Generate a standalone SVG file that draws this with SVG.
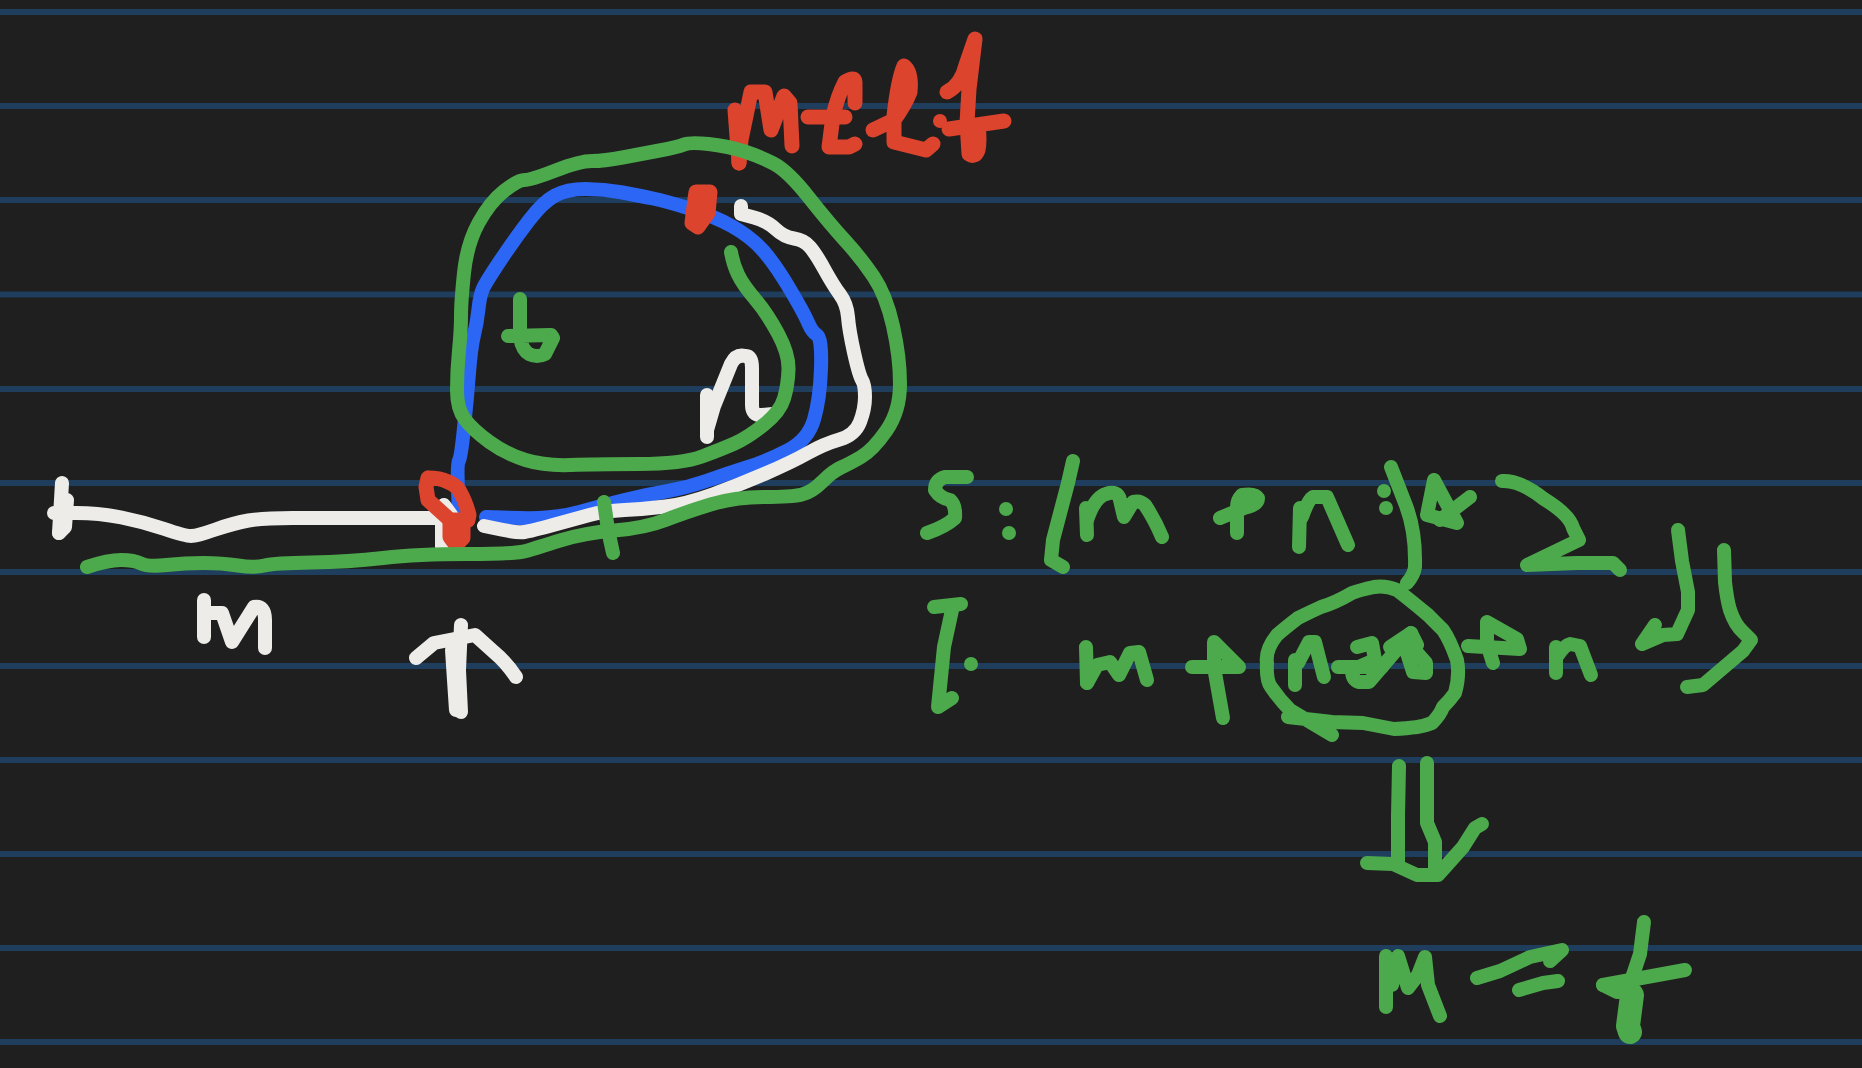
<svg xmlns="http://www.w3.org/2000/svg" width="1862" height="1068" viewBox="0 0 1862 1068">
<style>
polyline,path,circle{stroke-linecap:round;stroke-linejoin:round}
polyline,path{fill:none}
.g{stroke:#4caa4c;stroke-width:14}
.w{stroke:#edece9;stroke-width:14}
.b{stroke:#2c66f5;stroke-width:14}
.r{stroke:#dc442e;stroke-width:15}
.l{stroke:#1f3d5c;stroke-width:6;stroke-linecap:butt}
.gd{fill:#4caa4c}
.rd{fill:#dc442e}
</style>
<rect width="1862" height="1068" fill="#1f1f1f"/>
<g id="ruled-lines">
<path class="l" d="M0 12H1862M0 106H1862M0 200H1862M0 294.500H1862M0 389H1862M0 483H1862M0 572H1862M0 666H1862M0 760H1862M0 854H1862M0 948H1862M0 1042H1862"/>
</g>
<g id="red-word">
<polyline class="r" points="739,163 735,110"/>
<polyline class="r" points="739,163 741,140 751,92 765,92 771,130 784,96 790,103 792,146"/>
<polyline class="r" points="808,117 845,117"/>
<path class="r" d="M855 103L855 82Q855 76 845 82Q838 95 833 116L829 147L849 147L855 144"/>
<path class="r" d="M873 130L894 120Q905 105 910 92Q912 72 904 66Q898 80 894 116L894 142L926 150L933 144"/>
<circle class="rd" cx="940" cy="121" r="7"/>
<polyline class="r" points="949,129 1004,121"/>
<path class="r" d="M947 92Q961 85 966 65L975 39L969 89L967 123L969 154Q975 158 978 150Q980 140 978 127"/>
</g>
<g id="blue-loop">
<path class="b" d="M459 516L458 490Q457 464 459 460.500Q461 457 464 428Q467 399 469 373Q471 347 474 335Q477 323 478.500 309Q480 295 483 288.500Q486 282 500 261Q514 240 528.500 221Q543 202 555 195.500Q567 189 585.500 189Q604 189 622.500 192.500Q641 196 653 198.500Q665 201 689.500 208.500Q714 216 732.500 226.500Q751 237 763 250.500Q775 264 789.500 288.500Q804 313 808 322.500Q812 332 817 335Q822 338 821 368.500Q820 399 814 419.500Q808 440 787.500 450.500Q767 461 746.500 467.500Q726 474 706 481Q686 488 665.500 491.500Q645 495 624.500 500Q604 505 579.500 512Q555 519 520 518L486 517"/>
</g>
<g id="white-strokes">
<path class="w" d="M741 206L741 214L754 217.500Q767 221 775.500 229Q784 237 794 238.500Q804 240 810 247Q816 254 824.500 269.500Q833 285 840 294.500Q847 304 848 317Q849 330 854 352.500Q859 375 862 380Q865 385 865 397Q865 409 860 422Q855 435 839.500 439.500Q824 444 808 453Q792 462 765.500 473.500Q739 485 712.500 494.500Q686 504 665.500 506.500Q645 509 624.500 510Q604 511 589.500 515Q575 519 553 525Q531 531 524.500 532Q518 533 501 529.500L484 526"/>
<polyline class="w" points="707,437 707,395"/>
<path class="w" d="M707 430L714 406L731 364Q736 354 745 356Q752 355 752 368L752 405Q752 416 762 415L773 414"/>
<path class="w" d="M54 513L76 513Q99 513 121.500 517.500Q144 522 164.500 529Q185 536 191 536Q197 536 215.500 529.500Q234 523 248.500 520.500Q263 518 293 518L440 518"/>
<polyline class="w" points="62,483 59,533"/>
<polyline class="w" points="59,533 65,527 67,500"/>
<polyline class="w" points="442,522 442,548"/>
<polyline class="w" points="444,505 452,516"/>
<polyline class="w" points="204,600 204,637"/>
<path class="w" d="M209 613L222 613L232 642L254 607Q265 605 265 620L265 648"/>
<polyline class="w" points="461,625 459,670 461,712"/>
<polyline class="w" points="452,650 456,710"/>
<path class="w" d="M416 658L434 643L475 635L495 653Q506 662 516 677"/>
</g>
<g id="red-marks">
<path class="r rd" stroke-width="14" d="M696 192L710 192L708 213L698 227L692 223L695 199Z"/>
<path class="r" d="M428 478Q440 478 446 481Q456 485 459 490Q466 502 469 515L468 520L450 520L428 500L426 487L428 478"/>
<polyline class="r" points="450,520 450,537 456,545 463,538 463,522"/>
</g>
<g id="green-loop">
<path class="g" d="M87 567Q108 560 121 560Q134 560 141 563.500Q148 567 166.500 565Q185 563 203.500 563Q222 563 238 565.500Q254 568 264.500 565.500Q275 563 311.500 562.500Q348 562 383 558Q418 554 467 554Q516 554 526 551Q536 548 560 540.500Q584 533 614.500 530.500Q645 528 665.500 520Q686 512 710.500 504.500Q735 497 763.500 497Q792 497 802 494.500Q812 492 822.500 481.500Q833 471 841 467.500Q849 464 861 457Q873 450 886.500 430.500Q900 411 900 384Q900 357 893 326Q886 295 873.500 276.500Q861 258 845 240.500Q829 223 808.500 197Q788 171 773.500 163.500Q759 156 743 151Q727 146 708.500 144Q690 142 684 144.500Q678 147 659.500 150.500Q641 154 622.500 157.500Q604 161 592 161Q580 161 555.500 170.500Q531 180 524.500 180Q518 180 504 191Q490 202 478.500 223Q467 244 464 273Q461 302 461 316Q461 330 459 350.500Q457 371 457 390Q457 409 465 419.500Q473 430 489.500 442Q506 454 525.500 460Q545 466 570.500 465Q596 464 639 464Q682 464 702 456.500Q722 449 734.500 443.500Q747 438 763.500 425Q780 412 784 398.500Q788 385 788.500 369.500Q789 354 778 333.500Q767 313 755 299Q743 285 738 274.500Q733 264 731 252"/>
<polyline class="g" points="604,502 608,530 613,553"/>
<polyline class="g" points="520,299 520,337"/>
<path class="g" d="M508 336L551 335L553 338L545 354Q537 358 529 354Q522 350 520 337"/>
</g>
<g id="formula-s">
<path class="g" d="M967 477L945 477Q935 480 935 490Q940 498 950 500Q956 505 955 518Q945 527 927 533"/>
<circle class="gd" cx="1006" cy="509" r="7"/>
<circle class="gd" cx="1009" cy="533" r="7"/>
<path class="g" d="M1073 461L1068 483L1053 540L1051 560L1063 567"/>
<polyline class="g" points="1086,508 1087,535"/>
<path class="g" d="M1087 520Q1095 497 1106 494Q1118 490 1120 500L1124 517L1133 502Q1140 500 1145 505Q1155 520 1162 537"/>
<path class="g" d="M1220 518L1244 508Q1258 505 1258 498Q1255 493 1242 495Q1237 500 1237 507L1237 533"/>
<polyline class="g" points="1300,508 1299,547"/>
<path class="g" d="M1302 517Q1308 500 1313 497L1327 497L1348 545"/>
<circle class="gd" cx="1384" cy="491" r="7"/>
<circle class="gd" cx="1386" cy="508" r="7"/>
<path class="g" d="M1391 467L1405 503Q1416 530 1415 567Q1414 575 1407 583"/>
<polyline class="g" points="1434,480 1427,515 1457,523 1434,480"/>
<polyline class="g" points="1470,497 1440,520"/>
<path class="g" d="M1502 481Q1520 480 1544 499Q1570 515 1573 528L1579 540L1527 565L1577 563L1613 563L1620 570"/>
</g>
<g id="formula-i">
<polyline class="g" points="934,607 961,604"/>
<polyline class="g" points="952,610 944,647 938,707 952,698"/>
<circle class="gd" cx="971" cy="664" r="7"/>
<polyline class="g" points="1086,647 1087,683"/>
<path class="g" d="M1087 683L1097 665L1110 662L1119 675L1130 653L1139 652L1147 680"/>
<polyline class="g" points="1192,667 1239,667 1214,642 1214,667 1223,718"/>
<path class="g" d="M1288 717L1332 722L1363 723L1394 729Q1420 728 1432 723Q1440 715 1443 707Q1450 700 1455 693Q1460 675 1457 660Q1450 640 1443 630Q1435 622 1428 615Q1410 600 1397 590Q1385 585 1374 587Q1360 590 1352 593Q1335 603 1321 607Q1310 612 1298 618Q1285 628 1277 635Q1265 650 1267 663Q1266 680 1271 687Q1280 700 1290 710L1332 735"/>
<polyline class="g" points="1295,660 1295,685"/>
<path class="g" d="M1298 663L1309 642L1315 642L1324 677"/>
<polyline class="g" points="1338,667 1382,667"/>
<path class="g" d="M1357 647L1372 643L1375 660L1352 670Q1352 680 1359 682L1369 682L1411 633L1417 645L1407 653L1413 672L1426 673L1426 663L1410 645"/>
<polyline class="g" points="1390,647 1411,633"/>
<polyline class="g" points="1468,646 1520,649 1517,639 1487,622 1487,644 1493,663"/>
<polyline class="g" points="1556,647 1556,673"/>
<path class="g" d="M1558 655Q1565 645 1570 644L1580 646L1591 675"/>
<path class="g" d="M1678 530L1682 561L1688 592L1688 610L1677 634L1663 635L1642 644L1655 625"/>
<path class="g" d="M1724 550L1725 582Q1727 600 1730 610Q1735 625 1743 632L1751 640L1743 651L1703 685L1687 687"/>
</g>
<g id="implies-arrow">
<polyline class="g" points="1399,766 1398,816 1398,861"/>
<polyline class="g" points="1427,763 1427,823 1435,842 1435,875"/>
<polyline class="g" points="1367,863 1393,864 1417,875 1438,875 1463,847 1475,828 1482,824"/>
</g>
<g id="result">
<polyline class="g" points="1386,1007 1386,956"/>
<polyline class="g" points="1392,985 1398,956 1408,988 1418,975 1425,957 1428,985 1440,1016"/>
<polyline class="g" points="1477,978 1500,971 1530,957 1562,950 1550,961"/>
<polyline class="g" points="1519,990 1543,983 1558,981"/>
<polyline class="g" points="1644,922 1640,954 1632,978 1632,995"/>
<polyline class="g" points="1603,985 1685,970"/>
<polyline class="g" points="1603,985 1617,992 1632,992"/>
<polyline class="g" style="stroke-width:24" points="1632,995 1628,1026 1630,1032"/>
</g>
</svg>
